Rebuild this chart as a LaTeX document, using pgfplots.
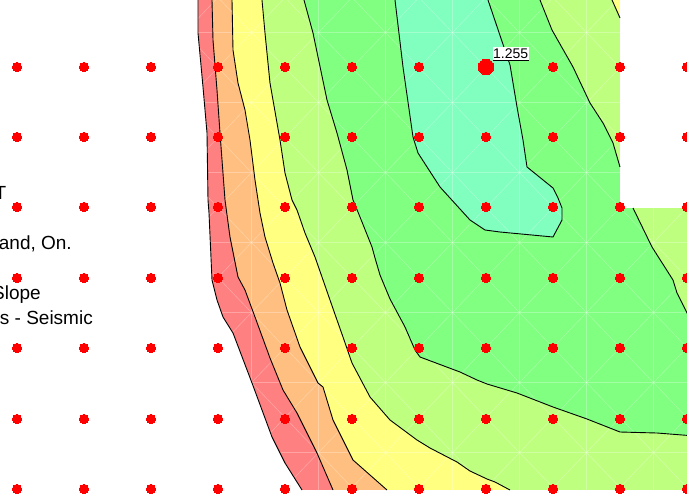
\documentclass[border=0pt]{standalone}
\usepackage{pgfplots}
\pgfplotsset{compat=1.18}
\usepackage{fontspec}
\setmainfont{Liberation Sans}
\definecolor{cRed}{RGB}{255,128,128}
\definecolor{cOrange}{RGB}{255,191,128}
\definecolor{cYellow}{RGB}{255,255,128}
\definecolor{cYG}{RGB}{191,255,128}
\definecolor{cGreen}{RGB}{128,255,128}
\definecolor{cAqua}{RGB}{128,255,191}
\begin{document}
\begin{tikzpicture}
\useasboundingbox (0,0) rectangle (687bp,498bp);
\clip (0,0) rectangle (687bp,498bp);
\begin{axis}[at={(0,0)}, anchor=south west, scale only axis,
  width=687bp, height=498bp, xmin=0, xmax=687, ymin=0, ymax=498,
  y dir=reverse, hide axis, clip=false]
% data region (red)
\addplot[fill=cRed, draw=none] coordinates {(198,-5) (198,0) (198,33) (203,87) (207,133) (208,200) (209,213) (212,280) (217,300) (223,317) (233,333) (252,383) (272,437) (285,463) (302,490) (695,490) (695,208) (620,208) (620,-5)};
% orange
\addplot[fill=cOrange, draw=none] coordinates {(212,-5) (212,0) (213,40) (217,90) (220,133) (225,200) (230,237) (238,277) (245,290) (255,317) (270,358) (283,390) (297,413) (317,453) (333,490) (695,490) (695,208) (620,208) (620,-5)};
% yellow
\addplot[fill=cYellow, draw=none] coordinates {(232,-5) (232,0) (233,50) (238,83) (245,110) (250,140) (255,180) (260,213) (265,237) (273,263) (280,283) (287,310) (300,347) (318,383) (323,387) (333,420) (353,460) (387,490) (695,490) (695,208) (620,208) (620,-5)};
% yellow-green
\addplot[fill=cYG, draw=none] coordinates {(262,-5) (262,0) (265,33) (270,83) (280,140) (285,173) (292,200) (297,210) (305,233) (315,257) (322,277) (330,300) (337,320) (343,337) (352,363) (370,397) (390,420) (417,440) (430,448) (457,462) (470,471) (487,479) (495,482) (510,490) (695,490) (695,208) (620,208) (620,18) (612,0) (610,-5)};
% green
\addplot[fill=cGreen, draw=none] coordinates {(303,-5) (304,0) (313,33) (327,100) (337,133) (347,170) (353,200) (360,217) (372,247) (375,258) (380,275) (390,299) (405,327) (415,350) (420,357) (460,372) (477,380) (487,384) (517,393) (535,400) (553,407) (587,419) (620,432) (657,433) (695,436) (695,329) (687,313) (677,293) (673,280) (652,247) (633,208) (620,208) (620,167) (613,143) (603,123) (590,103) (573,67) (552,30) (540,0) (538,-5)};
% aqua
\addplot[fill=cAqua, draw=none] coordinates {(394,-5) (395,0) (403,67) (413,137) (418,153) (440,187) (470,220) (485,230) (500,232) (553,237) (562,220) (562,208) (558,198) (553,188) (527,167) (523,140) (517,107) (510,65) (488,0) (486,-5)};
% faint interpolation mesh
\pgfplotsinvokeforeach{251.5,318.5,385.5,452.5,519.5,586.5,653.5}{
  \draw[white, opacity=0.28, line width=0.6bp] (#1,-10) -- (#1,500);}
\pgfplotsinvokeforeach{32.5,102.5,172.5,242.5,312.5,382.5,452.5}{
  \draw[white, opacity=0.28, line width=0.6bp] (150,#1) -- (700,#1);}
\pgfplotsinvokeforeach{-3,...,10}{
  \draw[white, opacity=0.28, line width=0.6bp] ({67*#1-57.2},-10) -- ({67*#1+430.9},500);}
\pgfplotsinvokeforeach{2,...,16}{
  \draw[white, opacity=0.28, line width=0.6bp] ({67*#1+91.2},-10) -- ({67*#1-396.9},500);}
% white covers outside the data region
\addplot[fill=white, draw=none] coordinates {(-10,-10) (198,-10) (198,0) (198,33) (203,87) (207,133) (208,200) (209,213) (212,280) (217,300) (223,317) (233,333) (252,383) (272,437) (285,463) (302,490) (700,490) (700,510) (-10,510)};
\addplot[fill=white, draw=none] coordinates {(620,-10) (700,-10) (700,208) (620,208)};
% contour lines
\addplot[black, line width=0.9bp] coordinates {(198,-5) (198,0) (198,33) (203,87) (207,133) (208,200) (209,213) (212,280) (217,300) (223,317) (233,333) (252,383) (272,437) (285,463) (302,490)};
\addplot[black, line width=0.9bp] coordinates {(212,-5) (212,0) (213,40) (217,90) (220,133) (225,200) (230,237) (238,277) (245,290) (255,317) (270,358) (283,390) (297,413) (317,453) (333,490)};
\addplot[black, line width=0.9bp] coordinates {(232,-5) (232,0) (233,50) (238,83) (245,110) (250,140) (255,180) (260,213) (265,237) (273,263) (280,283) (287,310) (300,347) (318,383) (323,387) (333,420) (353,460) (387,490)};
\addplot[black, line width=0.9bp] coordinates {(262,-5) (262,0) (265,33) (270,83) (280,140) (285,173) (292,200) (297,210) (305,233) (315,257) (322,277) (330,300) (337,320) (343,337) (352,363) (370,397) (390,420) (417,440) (430,448) (457,462) (470,471) (487,479) (495,482) (510,490)};
\addplot[black, line width=0.9bp] coordinates {(610,-5) (612,0) (620,18)};
\addplot[black, line width=0.9bp] coordinates {(303,-5) (304,0) (313,33) (327,100) (337,133) (347,170) (353,200) (360,217) (372,247) (375,258) (380,275) (390,299) (405,327) (415,350) (420,357) (460,372) (477,380) (487,384) (517,393) (535,400) (553,407) (587,419) (620,432) (657,433) (695,436)};
\addplot[black, line width=0.9bp] coordinates {(538,-5) (540,0) (552,30) (573,67) (590,103) (603,123) (613,143) (620,167)};
\addplot[black, line width=0.9bp] coordinates {(633,208) (652,247) (673,280) (677,293) (687,313) (695,329)};
\addplot[black, line width=0.9bp] coordinates {(394,-5) (395,0) (403,67) (413,137) (418,153) (440,187) (470,220) (485,230) (500,232) (553,237) (562,220) (562,208) (558,198) (553,188) (527,167) (523,140) (517,107) (510,65) (488,0) (486,-5)};
% grid of slip centres
\addplot[red, only marks, mark=*, mark size=4.7pt, mark options={fill=red, draw=red, line width=0pt}] coordinates {
(17,67) (84,67) (151,67) (218,67) (285,67) (352,67) (419,67) (553,67) (620,67) (687,67)
(17,137) (84,137) (151,137) (218,137) (285,137) (352,137) (419,137) (486,137) (553,137) (620,137) (687,137)
(17,207) (84,207) (151,207) (218,207) (285,207) (352,207) (419,207) (486,207) (553,207) (620,207) (687,207)
(17,278) (84,278) (151,278) (218,278) (285,278) (352,278) (419,278) (486,278) (553,278) (620,278) (687,278)
(17,348) (84,348) (151,348) (218,348) (285,348) (352,348) (419,348) (486,348) (553,348) (620,348) (687,348)
(17,419) (84,419) (151,419) (218,419) (285,419) (352,419) (419,419) (486,419) (553,419) (620,419) (687,419)
(17,489) (84,489) (151,489) (218,489) (285,489) (352,489) (419,489) (486,489) (553,489) (620,489) (687,489)
};
\addplot[red, only marks, mark=*, mark size=7.8pt, mark options={fill=red, draw=red, line width=0pt}] coordinates {(486,67)};
% minimum FS label
\node[anchor=south west, fill=white, inner xsep=0.5bp, inner ysep=1.5bp, font=\fontsize{14bp}{16bp}\selectfont] at (492.5,60.5) {1.255};
\draw[black, line width=1bp] (492.5,60.5) -- (529,60.5);
% clipped text from the left
\node[anchor=base east, inner sep=0pt, font=\fontsize{19bp}{22bp}\selectfont] at (6.5,199) {T};
\node[anchor=base east, inner sep=0pt, font=\fontsize{19bp}{22bp}\selectfont] at (72,249) {and, On.};
\node[anchor=base east, inner sep=0pt, font=\fontsize{19bp}{22bp}\selectfont] at (41,299) {Slope};
\node[anchor=base east, inner sep=0pt, font=\fontsize{19bp}{22bp}\selectfont] at (93,324) {s - Seismic};
\end{axis}
\end{tikzpicture}
\end{document}
